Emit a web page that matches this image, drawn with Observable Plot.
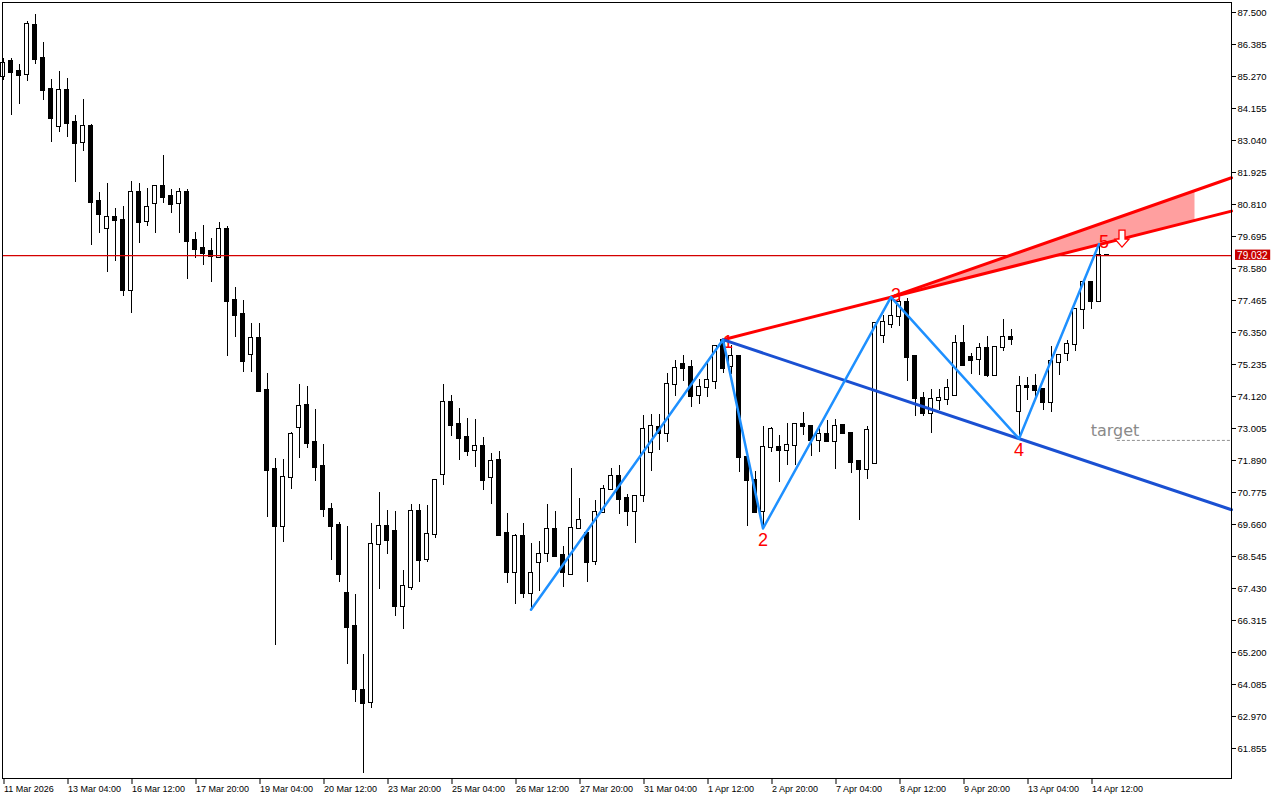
<!DOCTYPE html>
<html><head><meta charset="utf-8">
<script src="https://cdn.jsdelivr.net/npm/d3@7"></script>
<script src="https://cdn.jsdelivr.net/npm/@observablehq/plot@0.6"></script>
<style>
html,body{margin:0;padding:0;background:#fff;}
#chart{width:1280px;height:800px;overflow:hidden;}
svg{display:block;}
</style>
</head><body><div id="chart"></div>
<script>
// ---- 4H candles (bar index 0 = first visible bar) ----
const openP = [85.27,85.79,85.44,85.33,87.05,85.90,84.82,83.54,84.78,83.67,82.96,83.53,80.91,79.96,80.36,80.25,77.80,81.22,80.21,80.83,
81.43,81.08,80.83,81.22,79.56,79.28,79.16,78.97,79.93,77.47,76.98,75.57,76.13,74.33,71.58,69.60,71.29,73.05,73.79,72.51,
71.68,70.17,69.63,67.25,66.10,63.88,63.45,68.95,69.58,69.42,66.79,67.45,70.10,68.43,69.30,71.39,73.90,73.13,72.69,72.23,
72.38,71.29,71.88,69.35,68.00,69.23,67.27,68.33,68.64,69.48,68.57,67.93,69.51,69.35,68.36,70.07,70.87,71.32,70.56,70.10,
70.66,72.16,73.05,72.82,74.53,75.22,75.12,74.14,74.42,74.63,76.06,75.15,75.50,71.98,71.18,70.10,72.33,72.33,72.23,72.40,
73.14,73.07,72.58,72.79,72.54,73.11,72.82,71.84,71.57,71.78,76.25,76.63,76.91,77.38,75.51,74.06,73.52,73.99,74.03,74.14,
75.96,75.47,75.40,75.78,74.86,75.84,76.17,73.59,74.46,74.46,74.35,73.90,75.32,75.61,75.93,77.14,78.08,77.44,79.032];
const highP = [85.90,85.91,85.69,87.19,87.43,86.45,85.17,85.44,85.20,83.91,84.47,83.60,81.23,81.54,80.67,80.74,81.61,81.54,81.37,81.47,
82.52,81.33,81.37,81.33,79.83,80.08,79.64,80.18,80.03,77.92,77.47,76.65,76.65,74.92,71.96,71.91,72.87,74.54,74.47,73.67,
72.45,70.38,69.73,69.58,67.21,65.13,69.70,70.78,70.15,70.11,68.06,70.35,70.35,70.32,71.22,74.54,74.15,73.70,73.35,73.32,
72.69,72.13,72.20,70.04,69.31,69.70,69.00,69.07,70.36,70.11,68.88,71.60,70.56,69.35,70.49,71.01,71.60,71.71,70.71,70.63,
73.46,73.49,73.48,74.91,75.36,75.54,75.36,74.70,75.36,75.85,76.10,75.89,75.50,71.98,71.52,73.07,73.03,72.76,73.17,73.18,
73.56,73.09,73.03,73.28,73.31,73.11,72.82,71.84,73.09,76.65,76.94,77.58,77.53,77.53,75.51,74.25,74.35,74.36,74.70,76.26,
76.59,75.63,75.96,76.22,75.84,76.79,76.44,74.83,74.77,74.89,74.35,75.86,75.58,76.07,77.14,78.08,78.08,79.43,79.04];
const lowP = [85.13,83.91,84.30,85.11,85.69,84.44,82.98,83.33,83.16,81.59,82.67,79.39,79.81,78.45,78.83,77.59,77.02,79.46,80.05,79.81,
80.86,80.51,79.81,78.21,78.94,78.69,78.10,78.94,75.52,76.19,74.97,74.97,74.30,69.90,65.44,69.04,70.89,71.97,72.32,71.17,
69.91,68.42,67.65,64.77,63.45,60.97,63.26,67.41,68.61,66.47,65.99,67.37,67.65,68.35,69.18,71.03,72.74,71.90,72.04,71.66,
70.86,70.37,69.29,67.62,66.88,67.09,66.69,67.34,68.35,68.52,67.48,67.91,69.51,67.65,68.22,70.07,70.87,70.00,69.60,68.99,
70.42,71.52,72.23,72.51,74.12,74.63,73.73,73.85,74.10,74.36,74.91,74.89,71.48,69.60,70.05,69.52,72.18,71.13,71.71,71.71,
72.75,72.02,72.16,72.54,71.57,72.82,71.43,69.79,71.24,71.78,75.98,76.50,76.56,74.65,73.43,73.43,72.84,73.63,73.79,74.14,
75.21,74.89,74.85,74.79,74.86,75.70,75.91,72.65,73.98,73.98,73.63,73.55,74.86,75.35,75.69,76.47,77.14,77.40,79.03];
const closeP = [85.71,85.42,85.32,87.07,85.87,84.79,83.82,84.78,83.64,82.95,83.52,80.89,80.47,80.35,80.24,77.82,81.22,80.19,80.69,81.43,
81.06,80.82,81.22,79.53,79.25,79.11,78.99,79.93,77.44,76.95,75.34,76.13,74.30,71.54,69.59,71.29,72.79,73.76,72.49,71.66,
70.19,69.60,67.93,66.08,63.90,63.43,68.95,69.58,69.09,66.79,67.49,70.10,68.42,69.30,71.18,73.90,73.12,72.67,72.21,72.37,
71.20,71.84,69.29,68.00,69.23,67.27,67.94,68.60,69.48,68.55,67.98,69.51,69.79,68.35,70.07,70.87,71.32,70.54,70.10,70.63,
72.97,73.07,72.82,74.53,75.09,75.11,74.13,74.42,74.67,75.85,75.09,75.50,71.98,71.18,70.07,72.33,72.96,72.23,72.40,73.14,
73.06,72.58,72.79,72.54,73.07,72.82,71.83,71.57,72.93,76.65,76.70,76.91,77.38,75.49,74.06,73.52,74.03,74.06,74.39,75.96,
75.21,75.39,75.78,74.86,75.84,76.17,76.10,74.46,74.44,74.33,73.90,75.34,75.55,75.93,77.14,78.08,77.44,79.03,79.032];

// ---- axis ticks ----
const xTickBars = [0,8,16,24,32,40,48,56,64,72,80,88,96,104,112,120,128,136];
const xTickLabels = ["11 Mar 2026","13 Mar 04:00","16 Mar 12:00","17 Mar 20:00","19 Mar 04:00","20 Mar 12:00",
"23 Mar 20:00","25 Mar 04:00","26 Mar 12:00","27 Mar 20:00","31 Mar 04:00","1 Apr 12:00","2 Apr 20:00",
"7 Apr 04:00","8 Apr 12:00","9 Apr 20:00","13 Apr 04:00","14 Apr 12:00"];
const yTicks = [87.500,86.385,85.270,84.155,83.040,81.925,80.810,79.695,78.580,77.465,76.350,75.235,74.120,
73.005,71.890,70.775,69.660,68.545,67.430,66.315,65.200,64.085,62.970,61.855];

// ---- wave pivots (bar index, price, label) ----
const waveBars   = [66, 90, 95, 111, 127, 137];
const wavePrices = [66.69, 76.10, 69.52, 77.58, 72.65, 79.43];
const waveLabels = ["", "1", "2", "3", "4", "5"];

const lastPrice = 79.032;
const targetPrice = 72.59;
const targetStartBar = 139.3;
const zoneEndBar = 149;

// ---- scales (chart geometry) ----
const xDomain = [-0.0625, 153.5625];
const yDomain = [60.8095, 87.8485];
const xEnd = xDomain[1];

const bars = openP.map((o, i) => ({i, open: o, high: highP[i], low: lowP[i], close: closeP[i]}));
const wave = waveBars.map((b, k) => ({bar: b, price: wavePrices[k], label: waveLabels[k]}));
const P = wave;
const lineAt = (a, b, x) => a.price + (b.price - a.price) / (b.bar - a.bar) * (x - a.bar);

const line14 = [{bar: P[1].bar, price: P[1].price}, {bar: xEnd, price: lineAt(P[1], P[4], xEnd)}];
const line13 = [{bar: P[1].bar, price: P[1].price}, {bar: xEnd, price: lineAt(P[1], P[3], xEnd)}];
const s24 = (P[4].price - P[2].price) / (P[4].bar - P[2].bar);
const par24 = x => P[3].price + s24 * (x - P[3].bar);
const line24p = [{bar: P[3].bar, price: P[3].price}, {bar: xEnd, price: par24(xEnd)}];
const zone = [P[3].bar, zoneEndBar].map(x => ({bar: x, lo: lineAt(P[1], P[3], x), hi: par24(x)}));

const arrowSymbol = {
  draw(ctx) {
    ctx.moveTo(-3, -9); ctx.lineTo(3, -9); ctx.lineTo(3, 0); ctx.lineTo(7, 0);
    ctx.lineTo(0, 8); ctx.lineTo(-7, 0); ctx.lineTo(-3, 0); ctx.closePath();
  }
};

const FONT = "Liberation Sans, Arial, sans-serif";
const LINE_RED = "#d40000";

const chart = Plot.plot({
  width: 1280, height: 800,
  marginLeft: 2, marginRight: 49, marginTop: 2, marginBottom: 22,
  style: {background: "#fff", fontFamily: FONT, fontSize: "10px", color: "#000"},
  x: {type: "linear", domain: xDomain, axis: null},
  y: {type: "linear", domain: yDomain, axis: null},
  marks: [
    Plot.ruleX(bars, {x: "i", y1: "low", y2: "high", stroke: "#000", strokeWidth: 1, shapeRendering: "crispEdges"}),
    Plot.rect(bars, {x1: d => d.i - 0.25, x2: d => d.i + 0.25, y1: "open", y2: "close",
      insetTop: -0.5, insetBottom: -0.5,
      fill: d => d.close >= d.open ? "#fff" : "#000", stroke: "#000", strokeWidth: 1, shapeRendering: "crispEdges"}),
    Plot.ruleY([lastPrice], {stroke: LINE_RED, strokeWidth: 1.2}),
    Plot.areaY(zone, {x: "bar", y1: "lo", y2: "hi", fill: "#ff9f9f"}),
    Plot.text(wave.filter(d => d.label === "1"), {x: "bar", y: "price", text: "label",
      fill: "#ff0000", fontSize: 18, fontFamily: FONT, dx: 5, dy: 3}),
    Plot.text(wave.filter(d => ["3","5"].includes(d.label)), {x: "bar", y: "price", text: "label",
      fill: "#ff0000", fontSize: 18, fontFamily: FONT, dx: 5, dy: -2}),
    Plot.text(wave.filter(d => ["2","4"].includes(d.label)), {x: "bar", y: "price", text: "label",
      fill: "#ff0000", fontSize: 18, fontFamily: FONT, dy: 12}),
    Plot.line(line13, {x: "bar", y: "price", stroke: "#ff0000", strokeWidth: 3}),
    Plot.line(line24p, {x: "bar", y: "price", stroke: "#ff0000", strokeWidth: 3}),
    Plot.line(line14, {x: "bar", y: "price", stroke: "#1a50d2", strokeWidth: 3}),
    Plot.line(wave, {x: "bar", y: "price", stroke: "#1e90ff", strokeWidth: 2.5}),
    Plot.ruleY([targetPrice], {x1: targetStartBar, x2: xEnd, stroke: "#909090", strokeWidth: 1, strokeDasharray: "3,2"}),
    Plot.text([targetPrice], {x: targetStartBar - 0.3, y: d => d, text: () => "target", fill: "#8a8a8a",
      fontSize: 16, fontFamily: "DejaVu Sans", textAnchor: "middle", dy: -10}),
    Plot.dot([P[5]], {x: "bar", y: "price", symbol: arrowSymbol, r: 6, dx: 23, dy: -5,
      fill: "#fff", stroke: "#ff0000", strokeWidth: 1.3}),
    Plot.frame({stroke: "#000", strokeWidth: 1}),
    Plot.axisY(yTicks, {anchor: "right", tickSize: 4, tickPadding: 2, label: null,
      tickFormat: d3.format(".3f"), fontSize: 9.5, fontFamily: FONT}),
    Plot.axisX(xTickBars, {anchor: "bottom", tickSize: 6, tickPadding: 1, label: null,
      tickFormat: d => xTickLabels[xTickBars.indexOf(d)], textAnchor: "start", dx: 1, fontSize: 9, fontFamily: FONT}),
    Plot.rect([lastPrice], {x1: xEnd + 0.5, x2: xEnd + 4.9, y1: d => d - 0.17, y2: d => d + 0.19, fill: "#c80000"}),
    Plot.text([lastPrice], {x: xEnd + 0.7, y: d => d, text: d => d3.format(".3f")(d), fill: "#fff",
      textAnchor: "start", fontSize: 10, fontFamily: FONT})
  ]
});
document.getElementById("chart").appendChild(chart);
</script>
</body></html>
